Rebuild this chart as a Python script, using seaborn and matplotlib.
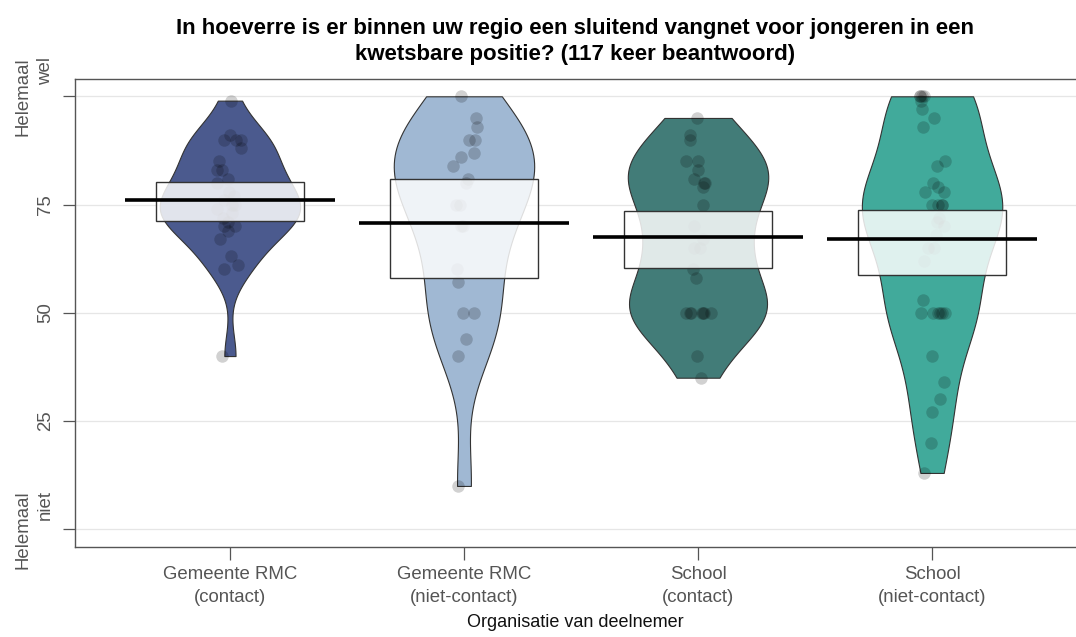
import matplotlib
matplotlib.use("Agg")
import matplotlib.pyplot as plt
import seaborn as sns
import numpy as np
import pandas as pd

# groups on the x axis
groups = ["Gemeente RMC\n(contact)", "Gemeente RMC\n(niet-contact)",
          "School\n(contact)", "School\n(niet-contact)"]

# answers per group (0 = helemaal niet, 100 = helemaal wel)
gem_contact = [99, 90, 90, 91, 90, 88, 85, 83, 83, 81, 80, 78, 77, 76, 75, 75,
               74, 73, 72, 71, 70, 70, 69, 67, 63, 61, 60, 40]
gem_niet = [100, 95, 93, 90, 90, 87, 86, 84, 81, 80, 75, 75, 70, 70, 60, 57,
            50, 50, 44, 40, 10]
school_contact = [95, 91, 90, 85, 85, 83, 81, 80, 80, 79, 75, 70, 67, 65, 65,
                  60, 58, 50, 50, 50, 50, 50, 50, 50, 40, 35]
school_niet = [100, 100, 100, 100, 99, 97, 95, 93, 85, 84, 80, 79, 78, 78,
               75, 75, 75, 75, 72, 71, 70, 68, 65, 65, 62, 53, 50, 50, 50,
               50, 50, 50, 40, 34, 30, 27, 20, 13]

# mean and inference band per group
means = [76.0, 70.7, 67.4, 67.0]
box_lo = [71.1, 58.0, 60.4, 58.8]
box_hi = [80.1, 80.8, 73.5, 73.8]

colors = ["#4b5a8e", "#a0b8d3", "#427c78", "#41aa9b"]

ytick_vals = [0, 25, 50, 75, 100]
ytick_labels = ["Helemaal\nniet", "25", "50", "75", "Helemaal\nwel"]

df = pd.concat([
    pd.DataFrame({"groep": g, "score": v})
    for g, v in zip(groups, [gem_contact, gem_niet, school_contact, school_niet])
])

sns.set_style("white")
plt.rcParams["font.family"] = ["Liberation Sans", "DejaVu Sans"]

fig = plt.figure(figsize=(10.76, 6.37), dpi=100)
ax = fig.add_axes([0.0697, 0.142, 0.9303, 0.734])

for y in ytick_vals:
    ax.axhline(y, color="#e6e6e6", lw=0.9, zorder=0)

sns.violinplot(data=df, x="groep", y="score", order=groups, hue="groep",
               palette=colors, legend=False, cut=0, inner=None,
               density_norm="width", width=0.6, bw_adjust=0.85,
               linewidth=0.8, linecolor="#333333", saturation=1, ax=ax)

np.random.seed(3)
sns.stripplot(data=df, x="groep", y="score", order=groups, color="black",
              alpha=0.18, size=9, jitter=0.06, linewidth=0, ax=ax, zorder=3)

xs = np.arange(len(groups))
ax.bar(xs, np.array(box_hi) - np.array(box_lo), bottom=box_lo, width=0.63,
       color="white", alpha=0.84, edgecolor="none", zorder=4)
ax.bar(xs, np.array(box_hi) - np.array(box_lo), bottom=box_lo, width=0.63,
       fill=False, edgecolor="#333333", linewidth=1.0, zorder=5)
ax.hlines(means, xs - 0.45, xs + 0.45, color="black", lw=2.6, zorder=6)

ax.set_xlim(-0.662, 3.615)
ax.set_ylim(-4, 104)
ax.set_yticks(ytick_vals)
ax.set_yticklabels(ytick_labels, rotation=90, va="center",
                   fontsize=13.4, color="#555555", linespacing=1.45)
ax.set_xticks(xs)
ax.set_xticklabels(groups, fontsize=13.4, color="#555555", linespacing=1.45)
ax.tick_params(axis="both", length=9, width=0.9, color="#555555",
               direction="out", bottom=True, left=True)
ax.tick_params(axis="y", pad=6)
ax.tick_params(axis="x", pad=5)

for side in ["left", "bottom", "top"]:
    ax.spines[side].set_color("#555555")
    ax.spines[side].set_linewidth(1.0)
ax.spines["right"].set_visible(False)

ax.set_xlabel("Organisatie van deelnemer", fontsize=13, color="#111111", labelpad=6)
ax.set_ylabel("")
ax.set_title("In hoeverre is er binnen uw regio een sluitend vangnet voor jongeren in een\n"
             "kwetsbare positie? (117 keer beantwoord)",
             fontsize=16, fontweight="bold", color="black", pad=14, linespacing=1.3)

fig.savefig("out.png", dpi=100)
